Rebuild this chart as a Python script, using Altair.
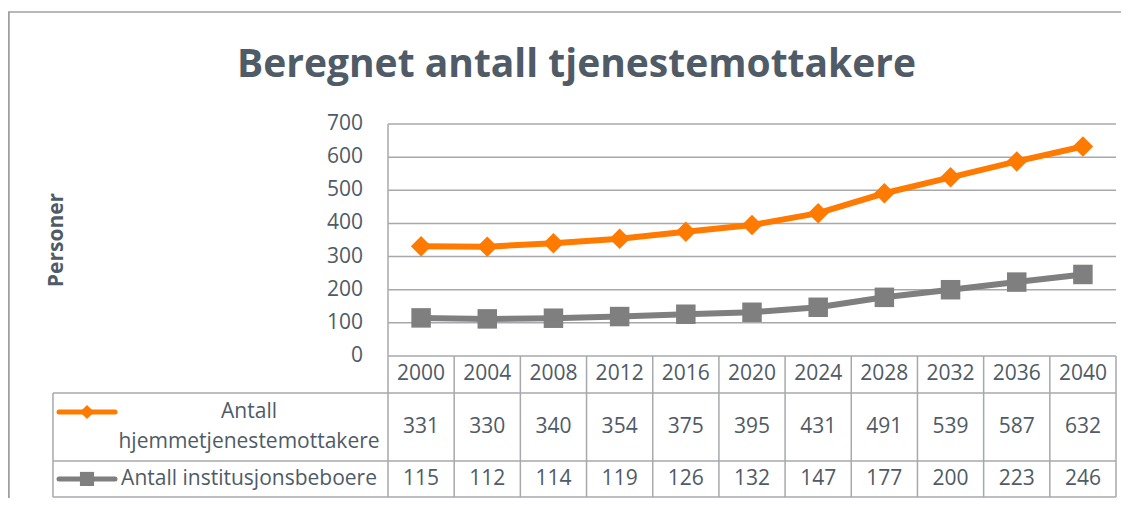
import altair as alt
import pandas as pd

# ---------------- data ----------------
years = [2000, 2004, 2008, 2012, 2016, 2020, 2024, 2028, 2032, 2036, 2040]
hjemme = [331, 330, 340, 354, 375, 395, 431, 491, 539, 587, 632]
institusjon = [115, 112, 114, 119, 126, 132, 147, 177, 200, 223, 246]
series_label_1 = "Antall\nhjemmetjenestemottakere"
series_label_2 = "Antall institusjonsbeboere"
y_ticks = [0, 100, 200, 300, 400, 500, 600, 700]

TITLE = "Beregnet antall tjenestemottakere"
Y_TITLE = "Personer"

# ---------------- style / layout ----------------
FONT = "Open Sans"
TEXT_COLOR = "#4F5B66"
GRID = "#A6A8AC"
BORDER = "#A0A0A0"
ORANGE = "#FF7A00"
GRAY = "#7F7F7F"
FS = 21

W, H = 1113, 490
# scale units: x = category slots (slot i spans [i, i+1]), y = value units
X0, X1 = -5.7418, 11.0755
Y0, Y1 = -428.45, 1050.0

HDR_BOTTOM = -111.6
ROW1_BOTTOM = -316.8
TABLE_BOTTOM = -425.8
TABLE_LEFT = -5.062
HDR_MID = -55.8
ROW1_MID = -214.2
ROW2_MID = -371.0
LEG_ROW1 = -169.0
LEG_ROW2 = -371.0
LEG_X0, LEG_X1, LEG_XM = -4.971, -4.125, -4.548
LABEL_X = -2.10
YTITLE_X, YTITLE_Y = -5.0, 350.0
BORDER_TOP = 1037.9
BORDER_LEFT = X0 + 0.012

n = len(years)
xs = alt.Scale(domain=[X0, X1], nice=False, zero=False)
ys = alt.Scale(domain=[Y0, Y1], nice=False, zero=False)


def X(f):
    return alt.X(f, type="quantitative", scale=xs, axis=None)


def Y(f):
    return alt.Y(f, type="quantitative", scale=ys, axis=None)


df = pd.DataFrame({
    "slot": [i + 0.5 for i in range(n)],
    "year": years,
    "h": hjemme,
    "inst": institusjon,
})

# gridlines
grid_df = pd.DataFrame({"v": y_ticks, "x": 0, "x2": n})
grid = alt.Chart(grid_df).mark_rule(color=GRID, strokeWidth=1.5).encode(
    x=X("x"), x2="x2", y=Y("v"))

# vertical lines (plot left edge, table columns, table left)
v_rows = [{"x": 0, "y": max(y_ticks), "y2": TABLE_BOTTOM}]
v_rows += [{"x": k, "y": 0, "y2": TABLE_BOTTOM} for k in range(1, n + 1)]
v_rows += [{"x": TABLE_LEFT, "y": HDR_BOTTOM, "y2": TABLE_BOTTOM}]
vlines = alt.Chart(pd.DataFrame(v_rows)).mark_rule(color=GRID, strokeWidth=1.5).encode(
    x=X("x"), y=Y("y"), y2="y2")

# horizontal table lines
h_df = pd.DataFrame({"y": [HDR_BOTTOM, ROW1_BOTTOM, TABLE_BOTTOM], "x": TABLE_LEFT, "x2": n})
hlines = alt.Chart(h_df).mark_rule(color=GRID, strokeWidth=1.5).encode(
    x=X("x"), x2="x2", y=Y("y"))

# outer chart border (top + left)
b_top = alt.Chart(pd.DataFrame({"x": [X0], "x2": [X1], "y": [BORDER_TOP]})).mark_rule(
    color=BORDER, strokeWidth=1.5).encode(x=X("x"), x2="x2", y=Y("y"))
b_left = alt.Chart(pd.DataFrame({"x": [BORDER_LEFT], "y": [BORDER_TOP], "y2": [Y0]})).mark_rule(
    color=BORDER, strokeWidth=2).encode(x=X("x"), y=Y("y"), y2="y2")

# series
line_h = alt.Chart(df).mark_line(color=ORANGE, strokeWidth=6).encode(x=X("slot"), y=Y("h"))
pts_h = alt.Chart(df).mark_point(shape="diamond", filled=True, size=420, color=ORANGE,
                                 opacity=1).encode(x=X("slot"), y=Y("h"))
line_i = alt.Chart(df).mark_line(color=GRAY, strokeWidth=6).encode(x=X("slot"), y=Y("inst"))
pts_i = alt.Chart(df).mark_point(shape="square", filled=True, size=380, color=GRAY,
                                 opacity=1).encode(x=X("slot"), y=Y("inst"))

# table cell texts
rows = []
for i in range(n):
    rows.append({"slot": i + 0.5, "label": str(years[i]), "ty": HDR_MID})
    rows.append({"slot": i + 0.5, "label": str(hjemme[i]), "ty": ROW1_MID})
    rows.append({"slot": i + 0.5, "label": str(institusjon[i]), "ty": ROW2_MID})
cells = alt.Chart(pd.DataFrame(rows)).mark_text(
    font=FONT, fontSize=FS, color=TEXT_COLOR, align="center", baseline="middle").encode(
    x=X("slot"), y=Y("ty"), text="label:N")

# y tick labels
ylab_df = pd.DataFrame({"v": y_ticks, "x": 0, "label": [str(t) for t in y_ticks]})
ylabels = alt.Chart(ylab_df).mark_text(
    font=FONT, fontSize=FS, color=TEXT_COLOR, align="right", baseline="middle", dx=-25).encode(
    x=X("x"), y=Y("v"), text="label:N")

# row labels (first line of a multi-line label sits at y, following lines below)
rl_df = pd.DataFrame({"x": [LABEL_X, LABEL_X], "y": [LEG_ROW1, ROW2_MID],
                      "label": [series_label_1, series_label_2]})
rlabels = alt.Chart(rl_df).mark_text(
    font=FONT, fontSize=FS, color=TEXT_COLOR, align="center", baseline="middle",
    lineBreak="\n", lineHeight=30).encode(x=X("x"), y=Y("y"), text="label:N")

# legend keys inside table
leg_df = pd.DataFrame({"x": [LEG_X0], "x2": [LEG_X1], "xm": [LEG_XM]})
leg_h_line = alt.Chart(leg_df.assign(y=LEG_ROW1)).mark_rule(
    color=ORANGE, strokeWidth=5, strokeCap="round").encode(x=X("x"), x2="x2", y=Y("y"))
leg_h_pt = alt.Chart(leg_df.assign(y=LEG_ROW1)).mark_point(
    shape="diamond", filled=True, size=200, color=ORANGE, opacity=1).encode(x=X("xm"), y=Y("y"))
leg_i_line = alt.Chart(leg_df.assign(y=LEG_ROW2)).mark_rule(
    color=GRAY, strokeWidth=5, strokeCap="round").encode(x=X("x"), x2="x2", y=Y("y"))
leg_i_pt = alt.Chart(leg_df.assign(y=LEG_ROW2)).mark_point(
    shape="square", filled=True, size=200, color=GRAY, opacity=1).encode(x=X("xm"), y=Y("y"))

# y title
yt = alt.Chart(pd.DataFrame({"x": [YTITLE_X], "y": [YTITLE_Y], "label": [Y_TITLE]})).mark_text(
    font=FONT, fontSize=21, fontWeight="bold", color=TEXT_COLOR, angle=270,
    align="center", baseline="middle").encode(x=X("x"), y=Y("y"), text="label:N")

chart = alt.layer(
    b_top, b_left, grid, vlines, hlines,
    line_i, pts_i, line_h, pts_h,
    cells, ylabels, rlabels,
    leg_h_line, leg_h_pt, leg_i_line, leg_i_pt, yt,
).properties(
    width=W, height=H,
    autosize=alt.AutoSizeParams(type="none"),
    padding=0,
    title=alt.Title(TITLE, font=FONT, fontSize=39, fontWeight="bold", color=TEXT_COLOR,
                    anchor="middle", frame="group", offset=-108, baseline="alphabetic", dx=12),
).configure_view(stroke=None)

chart.save("out.html", embed_options={"renderer": "svg", "actions": False})
